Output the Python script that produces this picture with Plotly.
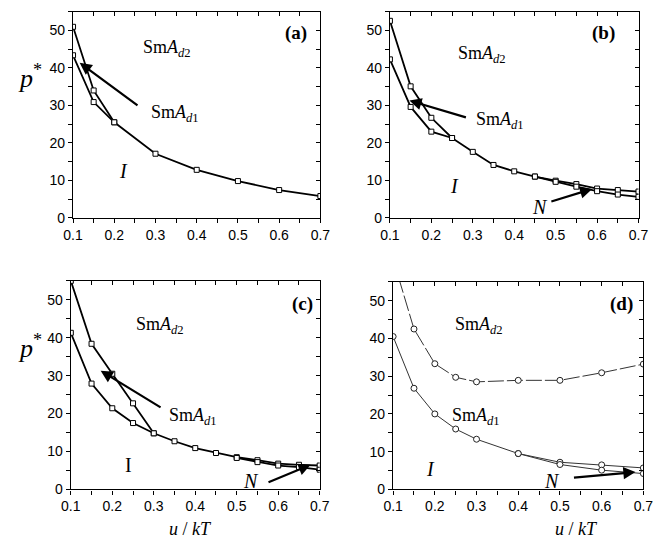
import plotly.graph_objects as go

# ---------------- data: p* along the phase boundaries vs u/kT ----------------
# (a)
a_x_upper = [0.10, 0.15, 0.20]
a_p_upper = [51.0, 34.0, 25.5]
a_x_lower = [0.10, 0.15, 0.20, 0.30, 0.40, 0.50, 0.60, 0.70]
a_p_lower = [43.4, 30.9, 25.5, 17.1, 12.8, 9.8, 7.4, 5.8]

# (b)
b_x_upper = [0.10, 0.15, 0.20, 0.25]
b_p_upper = [52.6, 35.1, 26.7, 21.3]
b_x_lower = [0.10, 0.15, 0.20, 0.25, 0.30, 0.35, 0.40, 0.45, 0.50, 0.55, 0.60, 0.65, 0.70]
b_p_lower = [42.3, 29.6, 23.0, 21.3, 17.6, 14.1, 12.4, 11.0, 9.9, 9.0, 7.8, 7.4, 7.0]
b_x_nem = [0.45, 0.50, 0.55, 0.60, 0.65, 0.70]
b_p_nem = [11.0, 9.6, 8.3, 7.1, 6.2, 5.6]

# (c)
c_x_upper = [0.10, 0.15, 0.20, 0.25, 0.30]
c_p_upper = [55.0, 38.4, 30.5, 22.7, 14.8]
c_x_lower = [0.10, 0.15, 0.20, 0.25, 0.30, 0.35, 0.40, 0.45, 0.50, 0.55, 0.60, 0.65, 0.70]
c_p_lower = [41.3, 27.9, 21.4, 17.5, 14.8, 12.7, 10.9, 9.6, 8.5, 7.7, 6.8, 6.5, 6.3]
c_x_nem = [0.50, 0.55, 0.60, 0.65, 0.70]
c_p_nem = [8.3, 7.2, 6.3, 5.9, 5.2]

# (d)
d_x_upper = [0.10, 0.15, 0.20, 0.25, 0.30, 0.40, 0.50, 0.60, 0.70]
d_p_upper = [61.0, 42.5, 33.3, 29.7, 28.5, 28.9, 28.9, 30.9, 33.2]
d_x_lower = [0.10, 0.15, 0.20, 0.25, 0.30, 0.40, 0.50, 0.60, 0.70]
d_p_lower = [40.5, 26.8, 20.0, 16.0, 13.3, 9.5, 7.2, 6.5, 5.7]
d_x_nem = [0.40, 0.50, 0.60, 0.70]
d_p_nem = [9.5, 6.6, 5.1, 4.2]

x_ticks = [0.1, 0.2, 0.3, 0.4, 0.5, 0.6, 0.7]
y_ticks = [0, 10, 20, 30, 40, 50]

SERIF = "Liberation Serif, Times New Roman, serif"
SANS = "Liberation Sans, Arial, sans-serif"

W, H = 665, 546
# plot-area boxes in pixels: (left, right, top, bottom)
boxes = {
    1: (65.0, 320.0, 12.0, 221.0),
    2: (391.7, 648.0, 12.0, 221.0),
    3: (62.7, 319.3, 285.0, 496.7),
    4: (395.0, 653.0, 286.0, 496.7),
}

fig = go.Figure()


def sq_trace(n, xs, ys):
    sfx = "" if n == 1 else str(n)
    fig.add_trace(go.Scatter(
        x=xs, y=ys, mode="lines+markers", xaxis="x" + sfx, yaxis="y" + sfx,
        line=dict(color="black", width=1.8),
        marker=dict(symbol="square", size=5, color="white",
                    line=dict(width=1, color="black")),
        showlegend=False, hoverinfo="skip"))


def circ_trace(n, xs, ys, dash="solid"):
    sfx = "" if n == 1 else str(n)
    fig.add_trace(go.Scatter(
        x=xs, y=ys, mode="lines+markers", xaxis="x" + sfx, yaxis="y" + sfx,
        line=dict(color="#333333", width=1, dash=dash),
        marker=dict(symbol="circle", size=6, color="white",
                    line=dict(width=1, color="#222222")),
        showlegend=False, hoverinfo="skip"))


sq_trace(1, a_x_upper, a_p_upper)
sq_trace(1, a_x_lower, a_p_lower)
sq_trace(2, b_x_upper, b_p_upper)
sq_trace(2, b_x_lower, b_p_lower)
sq_trace(2, b_x_nem, b_p_nem)
sq_trace(3, c_x_upper, c_p_upper)
sq_trace(3, c_x_lower, c_p_lower)
sq_trace(3, c_x_nem, c_p_nem)
circ_trace(4, d_x_upper, d_p_upper, dash="16px,3px")
circ_trace(4, d_x_lower, d_p_lower)
circ_trace(4, d_x_nem, d_p_nem)

layout = dict(
    width=W, height=H, margin=dict(l=0, r=0, t=0, b=0),
    paper_bgcolor="white", plot_bgcolor="white",
    font=dict(family=SANS, size=14, color="black"),
    showlegend=False,
)

for n, (l, r, t, b) in boxes.items():
    sfx = "" if n == 1 else str(n)
    xdom = [l / W, r / W]
    ydom = [1 - b / H, 1 - t / H]
    layout["xaxis" + sfx] = dict(
        domain=xdom, range=[0.1, 0.7], anchor="y" + sfx,
        tickvals=x_ticks, ticktext=[f"{v:.1f}" for v in x_ticks],
        ticks="outside", ticklen=4, tickwidth=1.2, tickcolor="black",
        minor=dict(ticks="outside", dtick=0.05, tick0=0.1, ticklen=4,
                   tickwidth=1.2, tickcolor="black"),
        showline=True, linecolor="black", linewidth=1.3, mirror=True,
        showgrid=False, zeroline=False,
        tickfont=dict(family=SANS, size=14, color="black"),
    )
    layout["yaxis" + sfx] = dict(
        domain=ydom, range=[0, 55], anchor="x" + sfx,
        tickvals=y_ticks, ticks="outside", ticklen=4, tickwidth=1.2,
        tickcolor="black",
        minor=dict(ticks="outside", dtick=5, tick0=0, ticklen=4,
                   tickwidth=1.2, tickcolor="black"),
        showline=True, linecolor="black", linewidth=1.3, mirror=True,
        showgrid=False, zeroline=False,
        tickfont=dict(family=SANS, size=14, color="black"),
    )
    # inward ticks on the top and right edges
    layout["xaxis" + str(n + 4)] = dict(
        overlaying="x" + sfx, side="top", anchor="y" + sfx,
        range=[0.1, 0.7], tickvals=x_ticks, showticklabels=False,
        ticks="inside", ticklen=4, tickwidth=1.2, tickcolor="black",
        minor=dict(ticks="inside", dtick=0.05, tick0=0.1, ticklen=4,
                   tickwidth=1.2, tickcolor="black"),
        showline=False, showgrid=False, zeroline=False,
    )
    layout["yaxis" + str(n + 4)] = dict(
        overlaying="y" + sfx, side="right", anchor="x" + sfx,
        range=[0, 55], tickvals=y_ticks, showticklabels=False,
        ticks="inside", ticklen=4, tickwidth=1.2, tickcolor="black",
        minor=dict(ticks="inside", dtick=5, tick0=0, ticklen=4,
                   tickwidth=1.2, tickcolor="black"),
        showline=False, showgrid=False, zeroline=False,
    )

# empty traces so the overlay axes get drawn
for n in range(1, 5):
    fig.add_trace(go.Scatter(x=[None], y=[None], xaxis="x" + str(n + 4),
                             yaxis="y" + str(n + 4), showlegend=False,
                             hoverinfo="skip"))

fig.update_layout(**layout)

annotations = []


def label(n, x, y, text, size=18, bold=False):
    sfx = "" if n == 1 else str(n)
    if bold:
        text = "<b>" + text + "</b>"
    annotations.append(dict(
        x=x, y=y, xref="x" + sfx, yref="y" + sfx, text=text,
        showarrow=False, font=dict(family=SERIF, size=size, color="black"),
        xanchor="center", yanchor="middle"))


def arrow(n, x0, y0, x1, y1):
    sfx = "" if n == 1 else str(n)
    annotations.append(dict(
        x=x1, y=y1, ax=x0, ay=y0, xref="x" + sfx, yref="y" + sfx,
        axref="x" + sfx, ayref="y" + sfx, text="", showarrow=True,
        arrowhead=2, arrowsize=1.1, arrowwidth=2.2, arrowcolor="black",
        standoff=0, startstandoff=0))


SMA2 = "Sm<i>A</i><sub><i>d</i>2</sub>"
SMA1 = "Sm<i>A</i><sub><i>d</i>1</sub>"

# (a)
label(1, 0.327, 45.3, SMA2)
label(1, 0.347, 27.8, SMA1)
label(1, 0.222, 12.5, "<i>I</i>", size=20)
label(1, 0.641, 49.3, "(a)", size=19, bold=True)
arrow(1, 0.26, 29.7, 0.116, 41.4)
# (b)
label(2, 0.322, 43.6, SMA2)
label(2, 0.365, 26.1, SMA1)
label(2, 0.256, 8.6, "<i>I</i>", size=20)
label(2, 0.463, 2.9, "<i>N</i>", size=20)
label(2, 0.615, 49.3, "(b)", size=19, bold=True)
arrow(2, 0.287, 26.7, 0.147, 31.3)
arrow(2, 0.486, 4.2, 0.588, 7.7)
# (c)
label(3, 0.316, 43.2, SMA2)
label(3, 0.394, 19.2, SMA1)
label(3, 0.238, 6.5, "I", size=20)
label(3, 0.534, 2.2, "<i>N</i>", size=20)
label(3, 0.659, 48.9, "(c)", size=19, bold=True)
arrow(3, 0.32, 21.4, 0.172, 31.3)
arrow(3, 0.573, 1.75, 0.678, 6.5)
# (d)
label(4, 0.305, 43.4, SMA2)
label(4, 0.298, 19.3, SMA1)
label(4, 0.189, 5.3, "<i>I</i>", size=20)
label(4, 0.481, 2.2, "<i>N</i>", size=20)
label(4, 0.647, 49.1, "(d)", size=19, bold=True)
arrow(4, 0.53, 3.1, 0.681, 4.6)

# axis titles
for (px, py) in [(21, 78), (21, 352)]:
    annotations.append(dict(
        x=px / W, y=1 - py / H, xref="paper", yref="paper",
        text="<i>p</i><sup>*</sup>", showarrow=False,
        font=dict(family=SERIF, size=26, color="black"),
        xanchor="center", yanchor="middle"))
for (px, py) in [(186, 537), (584, 537)]:
    annotations.append(dict(
        x=px / W, y=1 - py / H, xref="paper", yref="paper",
        text="<i>u</i> / <i>kT</i>", showarrow=False,
        font=dict(family=SERIF, size=18, color="black"),
        xanchor="center", yanchor="middle"))

fig.update_layout(annotations=annotations)
fig.write_html("out.html")
